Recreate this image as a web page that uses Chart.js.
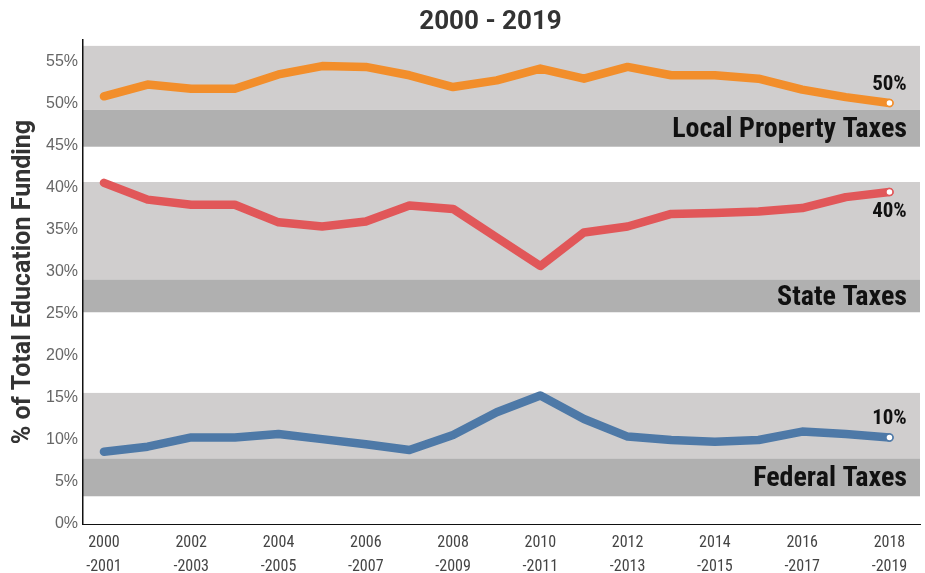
<!DOCTYPE html>
<html>
<head>
<meta charset="utf-8">
<script src="https://cdn.jsdelivr.net/npm/chart.js@4.4.0/dist/chart.umd.min.js"></script>
<style>
  html, body { margin: 0; padding: 0; background: #fff; }
  #wrap { width: 925px; height: 573px; }
</style>
</head>
<body>
<div id="wrap"><canvas id="chart" width="925" height="573"></canvas></div>
<script>
// school years, one point each
const years = ['2000-2001', '2001-2002', '2002-2003', '2003-2004', '2004-2005', '2005-2006',
  '2006-2007', '2007-2008', '2008-2009', '2009-2010', '2010-2011', '2011-2012', '2012-2013',
  '2013-2014', '2014-2015', '2015-2016', '2016-2017', '2017-2018', '2018-2019'];

// % of total education funding
const localTaxes = [50.9, 52.3, 51.8, 51.8, 53.5, 54.5, 54.4, 53.4, 52.0, 52.8, 54.2,
  53.0, 54.4, 53.4, 53.4, 53.0, 51.7, 50.8, 50.1];
const stateTaxes = [40.6, 38.6, 38.0, 38.0, 35.9, 35.4, 36.0, 37.9, 37.5, 34.1, 30.7,
  34.7, 35.4, 36.9, 37.0, 37.2, 37.6, 38.9, 39.5];
const federalTaxes = [8.6, 9.2, 10.3, 10.3, 10.7, 10.1, 9.5, 8.8, 10.6, 13.3, 15.3,
  12.5, 10.4, 10.0, 9.8, 10.0, 11.0, 10.7, 10.3];

const seriesNames = ['Local Property Taxes', 'State Taxes', 'Federal Taxes'];
const endLabels = ['50%', '40%', '10%'];

// background bands behind each series: [top, split, bottom] in %
const bandRanges = [[56.9, 49.3, 44.9], [40.7, 29.1, 25.2], [15.6, 7.8, 3.3]];

const colors = ['#f28e2b', '#e15759', '#4e79a7'];
const endLabelSide = ['top', 'bottom', 'top'];

const narrow = "'Liberation Sans Narrow', 'Roboto Condensed', 'DejaVu Sans Condensed', Roboto, sans-serif";

const toPoints = arr => arr.map((v, i) => ({ x: i, y: v }));

const bandsPlugin = {
  id: 'bands',
  beforeDraw(chart) {
    const { ctx, chartArea, scales } = chart;
    const y = scales.y;
    ctx.save();
    bandRanges.forEach((b, i) => {
      const yTop = y.getPixelForValue(b[0]);
      const ySplit = y.getPixelForValue(b[1]);
      const yBot = y.getPixelForValue(b[2]);
      ctx.fillStyle = '#d0cece';
      ctx.fillRect(chartArea.left, yTop, chartArea.right - chartArea.left, ySplit - yTop);
      ctx.fillStyle = '#b0b0b0';
      ctx.fillRect(chartArea.left, ySplit, chartArea.right - chartArea.left, yBot - ySplit);
      ctx.fillStyle = '#111';
      ctx.font = "bold 28px " + narrow;
      ctx.textAlign = 'right';
      ctx.textBaseline = 'middle';
      ctx.fillText(seriesNames[i], chartArea.right - 13, (ySplit + yBot) / 2 + 2);
    });
    ctx.restore();
  },
  afterDatasetsDraw(chart) {
    const { ctx } = chart;
    ctx.save();
    ctx.font = "bold 21px " + narrow;
    ctx.fillStyle = '#111';
    ctx.textAlign = 'center';
    chart.data.datasets.forEach((ds, i) => {
      const pts = chart.getDatasetMeta(i).data;
      const p = pts[pts.length - 1];
      if (endLabelSide[i] === 'top') {
        ctx.textBaseline = 'bottom';
        ctx.fillText(endLabels[i], p.x, p.y - 8);
      } else {
        ctx.textBaseline = 'top';
        ctx.fillText(endLabels[i], p.x, p.y + 9);
      }
    });
    ctx.restore();
  },
  afterDraw(chart) {
    const { ctx, chartArea } = chart;
    ctx.save();
    ctx.font = 'bold 26px Roboto, sans-serif';
    ctx.fillStyle = '#333';
    ctx.textAlign = 'center';
    ctx.textBaseline = 'middle';
    ctx.fillText('2000 - 2019', (chartArea.left + chartArea.right) / 2 - 11, 22);
    ctx.restore();
  }
};

function lineSet(data, color) {
  return {
    data: toPoints(data),
    borderColor: color,
    borderWidth: 8.5,
    borderCapStyle: 'round',
    borderJoinStyle: 'round',
    tension: 0,
    pointRadius: data.map((v, i) => i === data.length - 1 ? 3.5 : 0),
    pointHoverRadius: 0,
    pointBackgroundColor: '#fff',
    pointBorderColor: color,
    pointBorderWidth: 1.5
  };
}

new Chart(document.getElementById('chart').getContext('2d'), {
  type: 'line',
  data: {
    datasets: [
      lineSet(localTaxes, colors[0]),
      lineSet(stateTaxes, colors[1]),
      lineSet(federalTaxes, colors[2])
    ]
  },
  plugins: [bandsPlugin],
  options: {
    responsive: false,
    animation: false,
    layout: { padding: { top: 40, right: 4, left: 0, bottom: 0 } },
    plugins: {
      legend: { display: false },
      tooltip: { enabled: false }
    },
    scales: {
      x: {
        type: 'linear',
        min: -0.48,
        max: 18.7,
        grid: { display: false, drawTicks: false },
        border: { color: '#111', width: 1 },
        afterBuildTicks: s => {
          s.ticks = years.map((y, i) => ({ value: i })).filter(t => t.value % 2 === 0);
        },
        afterFit: s => { s.height = 49; },
        ticks: {
          autoSkip: false,
          maxRotation: 0,
          padding: 7,
          color: '#444',
          font: { family: narrow, size: 16, lineHeight: 1.5 },
          callback: v => {
            const parts = years[v].split('-');
            return [parts[0], '-' + parts[1]];
          }
        }
      },
      y: {
        min: 0,
        max: 57.6,
        grid: { display: false, drawTicks: false },
        border: { color: '#111', width: 1.5 },
        afterFit: s => { s.width = 83; },
        ticks: {
          stepSize: 5,
          includeBounds: false,
          padding: 5,
          color: '#666',
          font: { family: "'Liberation Sans', Arial, sans-serif", size: 16 },
          callback: v => v + '%'
        },
        title: {
          display: true,
          text: '% of Total Education Funding',
          color: '#333',
          padding: { top: 9, bottom: 0 },
          font: { family: "Roboto, sans-serif", size: 25, weight: 'bold' }
        }
      }
    }
  }
});
</script>
</body>
</html>
